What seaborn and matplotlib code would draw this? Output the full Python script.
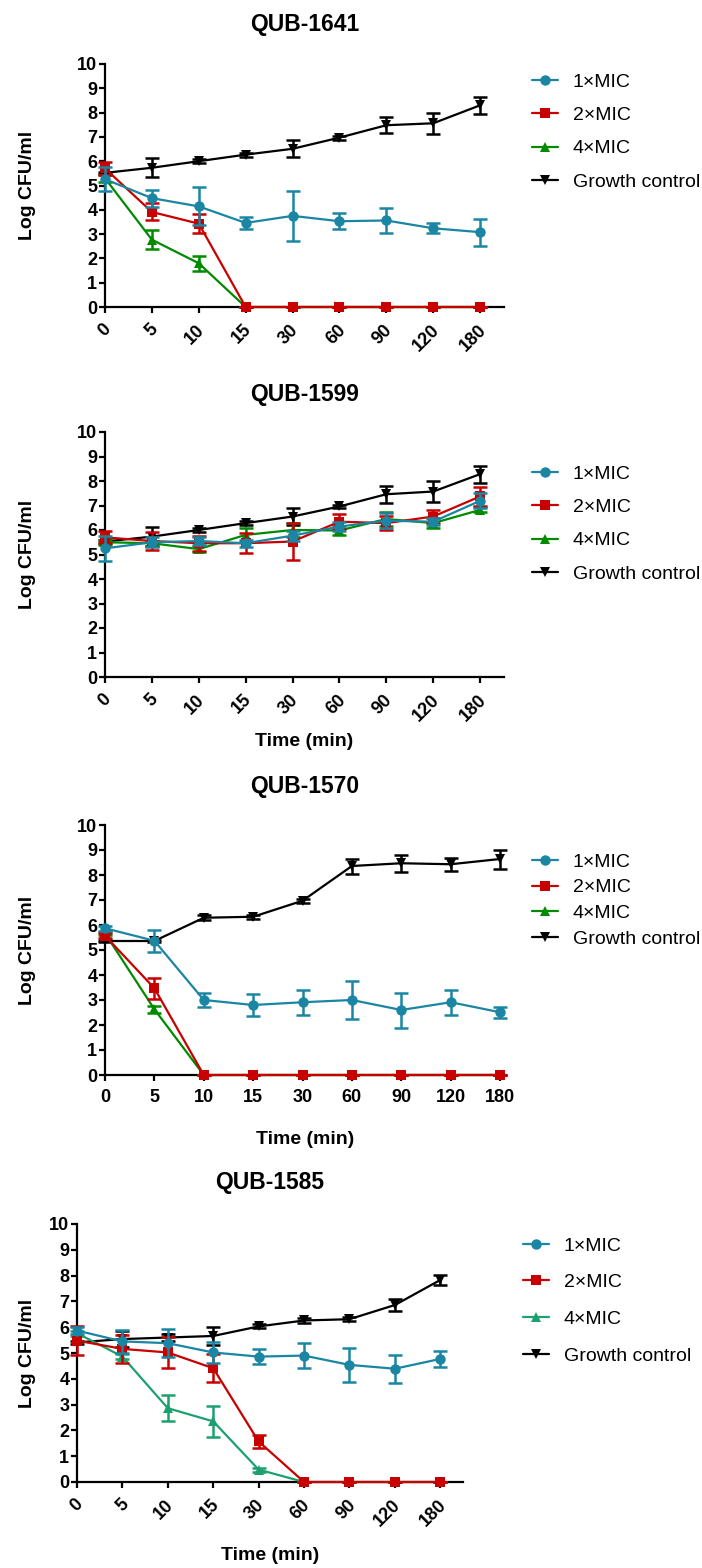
import numpy as np
import pandas as pd
import matplotlib
matplotlib.use("Agg")
import matplotlib.pyplot as plt
import matplotlib.transforms as mtransforms
from matplotlib.lines import Line2D
import seaborn as sns

# ---------------- data ----------------
times = ["0", "5", "10", "15", "30", "60", "90", "120", "180"]
series_names = ["1×MIC", "2×MIC", "4×MIC", "Growth control"]

titles = ["QUB-1641", "QUB-1599", "QUB-1570", "QUB-1585"]

# QUB-1641
p1_mic1 = [5.26, 4.48, 4.14, 3.46, 3.75, 3.53, 3.56, 3.24, 3.08]
p1_mic1_err = [0.5, 0.35, 0.78, 0.25, 1.02, 0.32, 0.5, 0.2, 0.55]
p1_mic2 = [5.7, 3.91, 3.43, 0, 0, 0, 0, 0, 0]
p1_mic2_err = [0.25, 0.35, 0.4, 0, 0, 0, 0, 0, 0]
p1_mic4 = [5.3, 2.77, 1.8, 0, 0, 0, 0, 0, 0]
p1_mic4_err = [0.15, 0.38, 0.3, 0, 0, 0, 0, 0, 0]
p1_gc = [5.52, 5.73, 6.0, 6.27, 6.51, 6.97, 7.48, 7.56, 8.3]
p1_gc_err = [0.05, 0.4, 0.08, 0.08, 0.35, 0.08, 0.34, 0.44, 0.35]

# QUB-1599
p2_mic1 = [5.25, 5.5, 5.55, 5.46, 5.77, 6.14, 6.38, 6.34, 7.19]
p2_mic1_err = [0.5, 0.2, 0.15, 0.15, 0.2, 0.2, 0.3, 0.15, 0.3]
p2_mic2 = [5.7, 5.55, 5.46, 5.46, 5.53, 6.34, 6.28, 6.55, 7.37]
p2_mic2_err = [0.25, 0.35, 0.3, 0.4, 0.75, 0.3, 0.3, 0.25, 0.4]
p2_mic4 = [5.5, 5.46, 5.22, 5.8, 6.0, 5.98, 6.45, 6.28, 6.82]
p2_mic4_err = [0.1, 0.1, 0.12, 0.3, 0.3, 0.2, 0.3, 0.2, 0.1]
p2_gc = [5.53, 5.73, 6.0, 6.28, 6.55, 6.96, 7.46, 7.57, 8.28]
p2_gc_err = [0.05, 0.4, 0.08, 0.08, 0.35, 0.08, 0.34, 0.44, 0.35]

# QUB-1570
p3_mic1 = [5.87, 5.37, 3.0, 2.8, 2.91, 3.0, 2.6, 2.91, 2.51]
p3_mic1_err = [0.1, 0.45, 0.28, 0.43, 0.5, 0.75, 0.7, 0.5, 0.23]
p3_mic2 = [5.57, 3.47, 0, 0, 0, 0, 0, 0, 0]
p3_mic2_err = [0.1, 0.42, 0, 0, 0, 0, 0, 0, 0]
p3_mic4 = [5.67, 2.63, 0, 0, 0, 0, 0, 0, 0]
p3_mic4_err = [0.05, 0.15, 0, 0, 0, 0, 0, 0, 0]
p3_gc = [5.36, 5.36, 6.29, 6.33, 6.97, 8.36, 8.47, 8.43, 8.64]
p3_gc_err = [0.05, 0.05, 0.1, 0.08, 0.08, 0.3, 0.33, 0.27, 0.38]

# QUB-1585
p4_mic1 = [5.87, 5.45, 5.38, 5.02, 4.86, 4.9, 4.54, 4.39, 4.77]
p4_mic1_err = [0.15, 0.45, 0.55, 0.4, 0.3, 0.5, 0.65, 0.55, 0.3]
p4_mic2 = [5.48, 5.16, 5.02, 4.41, 1.57, 0, 0, 0, 0]
p4_mic2_err = [0.55, 0.55, 0.6, 0.55, 0.25, 0, 0, 0, 0]
p4_mic4 = [5.77, 4.86, 2.86, 2.35, 0.48, 0, 0, 0, 0]
p4_mic4_err = [0.1, 0.1, 0.5, 0.6, 0.08, 0, 0, 0, 0]
p4_gc = [5.41, 5.54, 5.6, 5.66, 6.03, 6.26, 6.31, 6.86, 7.83]
p4_gc_err = [0.05, 0.3, 0.15, 0.35, 0.08, 0.08, 0.08, 0.25, 0.2]

panels = [
    (p1_mic1, p1_mic1_err, p1_mic2, p1_mic2_err, p1_mic4, p1_mic4_err, p1_gc, p1_gc_err),
    (p2_mic1, p2_mic1_err, p2_mic2, p2_mic2_err, p2_mic4, p2_mic4_err, p2_gc, p2_gc_err),
    (p3_mic1, p3_mic1_err, p3_mic2, p3_mic2_err, p3_mic4, p3_mic4_err, p3_gc, p3_gc_err),
    (p4_mic1, p4_mic1_err, p4_mic2, p4_mic2_err, p4_mic4, p4_mic4_err, p4_gc, p4_gc_err),
]

# ---------------- style ----------------
sns.set_style("ticks")
plt.rcParams["font.family"] = ["Liberation Sans", "DejaVu Sans"]
plt.rcParams["text.color"] = "black"
plt.rcParams["axes.labelcolor"] = "black"
plt.rcParams["xtick.color"] = "black"
plt.rcParams["ytick.color"] = "black"

W, H = 702, 1568
fig = plt.figure(figsize=(W / 100, H / 100), dpi=100)

teal = "#1A86A3"
red = "#C80000"
green = "#008A00"
green4 = "#1DA070"
black = "#000000"
markers = {"1×MIC": "o", "2×MIC": "s", "4×MIC": "^", "Growth control": "v"}

layout = [
    dict(l=105, t=64, r=504, b=307, xmax=8.51, rot=True, lx=532, ly=73, ls=0.81, ty=24, xl=None),
    dict(l=105, t=432, r=504, b=677, xmax=8.51, rot=True, lx=532, ly=465, ls=0.81, ty=395, xl=742),
    dict(l=105, t=825, r=505, b=1075, xmax=8.1, rot=False, lx=532, ly=853, ls=0.42, ty=786, xl=1140),
    dict(l=77, t=1224, r=463, b=1482, xmax=8.5, rot=True, lx=523, ly=1237, ls=0.98, ty=1183, xl=1555),
]

for pi, (lay, data) in enumerate(zip(layout, panels)):
    m1, e1, m2, e2, m4, e4, gc, egc = data
    ax = fig.add_axes([lay["l"] / W, 1 - lay["b"] / H,
                       (lay["r"] - lay["l"]) / W, (lay["b"] - lay["t"]) / H])
    g4 = green4 if pi == 3 else green
    pal = {"1×MIC": teal, "2×MIC": red, "4×MIC": g4, "Growth control": black}

    vals = {"1×MIC": (m1, e1), "2×MIC": (m2, e2), "4×MIC": (m4, e4), "Growth control": (gc, egc)}
    rows = []
    for s in series_names:
        for i, t in enumerate(times):
            rows.append({"idx": i, "time": t, "series": s, "val": vals[s][0][i]})
    df = pd.DataFrame(rows)

    draw_order = ["Growth control", "4×MIC", "2×MIC", "1×MIC"]
    for z, s in enumerate(draw_order):
        sub = df[df["series"] == s]
        x = sub["idx"].to_numpy()
        y = sub["val"].to_numpy()
        err = np.array(vals[s][1])
        ax.errorbar(x, y, yerr=err, fmt="none", ecolor=pal[s], elinewidth=1.8,
                    capsize=5, capthick=1.8, zorder=3 + z, clip_on=False)
        sns.lineplot(data=sub, x="idx", y="val", color=pal[s], marker=markers[s],
                     markersize=7.5, markeredgewidth=0, linewidth=1.6, ax=ax,
                     label=s, zorder=3 + z, legend=False, clip_on=False)

    ax.set_xlim(0, lay["xmax"])
    ax.set_ylim(0, 10)
    ax.set_yticks(range(0, 11))
    ax.set_xticks(range(len(times)))
    ax.set_xlabel("")
    ax.set_ylabel("")
    sns.despine(ax=ax)
    for sp in ["left", "bottom"]:
        ax.spines[sp].set_linewidth(1.6)
        ax.spines[sp].set_color("black")
    ax.tick_params(axis="both", length=4, width=1.6, color="black", direction="out")
    ax.tick_params(axis="y", pad=1.5)
    ax.set_yticklabels([str(v) for v in range(0, 11)], fontsize=13, fontweight="bold")
    if lay["rot"]:
        labs = ax.set_xticklabels(times, fontsize=13, fontweight="bold", rotation=45,
                                  ha="right", va="center", rotation_mode="anchor")
        ax.tick_params(axis="x", pad=10.5)
        off = mtransforms.ScaledTranslation(3.5 / 100, 0, fig.dpi_scale_trans)
        for lb in labs:
            lb.set_transform(lb.get_transform() + off)
    else:
        ax.set_xticklabels(times, fontsize=13, fontweight="bold")
        ax.tick_params(axis="x", pad=6)

    handles = [Line2D([0], [0], color=pal[s], marker=markers[s], markersize=7.5,
                      markeredgewidth=0, linewidth=1.6) for s in series_names]
    ax.legend(handles, series_names, loc="upper left",
              bbox_to_anchor=(lay["lx"] / W, 1 - lay["ly"] / H),
              bbox_transform=fig.transFigure, frameon=False, fontsize=14,
              handlelength=1.35, handletextpad=0.75, labelspacing=lay["ls"],
              borderpad=0, borderaxespad=0)

    cx = (lay["l"] + lay["r"]) / 2
    fig.text(cx / W, 1 - lay["ty"] / H, titles[pi], ha="center", va="center",
             fontsize=16.5, fontweight="bold")
    fig.text(27 / W, 1 - ((lay["t"] + lay["b"]) / 2) / H, "Log CFU/ml", rotation=90,
             ha="center", va="center", fontsize=14, fontweight="bold")
    if lay["xl"] is not None:
        fig.text(cx / W, 1 - lay["xl"] / H, "Time (min)", ha="center", va="center",
                 fontsize=14, fontweight="bold")

fig.savefig("out.png", dpi=100, facecolor="white")
